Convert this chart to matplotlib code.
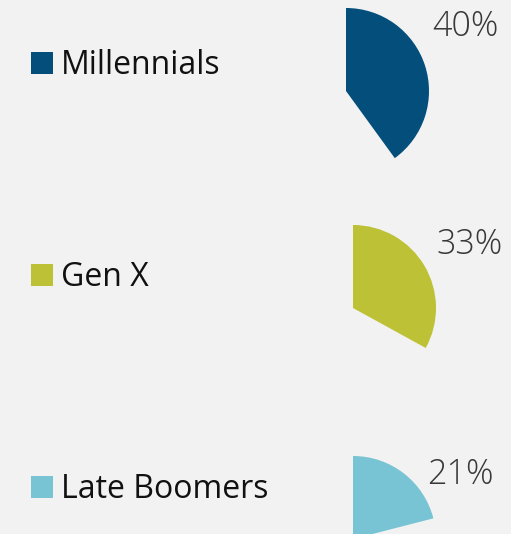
import matplotlib
matplotlib.use("Agg")
import matplotlib.pyplot as plt

categories = ["Millennials", "Gen X", "Late Boomers"]
shares = [40, 33, 21]
labels = ["40%", "33%", "21%"]
colors = ["#034e7b", "#bdc135", "#78c4d4"]

W, H = 511, 534
fig = plt.figure(figsize=(W / 100, H / 100), dpi=100, facecolor="#f2f2f2")
ax = fig.add_axes([0, 0, 1, 1])
ax.set_facecolor("#f2f2f2")

# layout (pixel positions, y measured from top)
pie_centers = [(346, 91), (353, 308), (353, 539)]
radius = 83
label_pos = [(465, 27), (470, 245), (460, 475)]
legend_y = [63, 275, 487]

for i, (cat, v, lab, c) in enumerate(zip(categories, shares, labels, colors)):
    cx, cy = pie_centers[i]
    ax.pie([v, 100 - v], colors=[c, "none"], center=(cx, H - cy), radius=radius,
           startangle=90, counterclock=False, frame=True,
           wedgeprops=dict(linewidth=0))
    lx, ly = label_pos[i]
    ax.text(lx, H - ly, lab, ha="center", va="center", fontsize=24.5,
            color="#383838", family="Open Sans", fontweight="light")
    ax.scatter([41.5], [H - legend_y[i]], marker="s", s=21 ** 2 * 0.52, color=c,
                linewidths=0)
    ax.text(61, H - legend_y[i] - 2.5, cat, ha="left", va="center", fontsize=23,
            color="#111111", family="Open Sans")

ax.set_xlim(0, W)
ax.set_ylim(0, H)
ax.set_aspect("equal")
ax.axis("off")
fig.savefig("out.png", dpi=100, facecolor="#f2f2f2")
